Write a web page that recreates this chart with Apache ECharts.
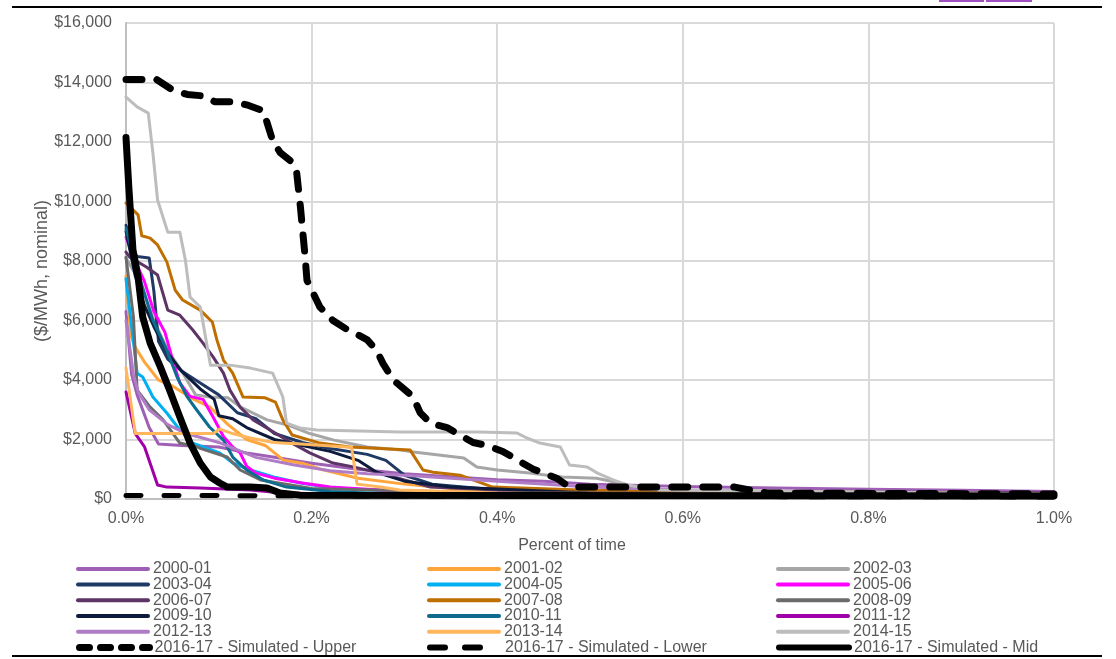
<!DOCTYPE html>
<html>
<head>
<meta charset="utf-8">
<title>Price duration curves</title>
<script src="https://cdn.jsdelivr.net/npm/echarts@6/dist/echarts.min.js"></script>
<style>
  html, body { margin: 0; padding: 0; background: #ffffff; }
  #chart { width: 1116px; height: 659px; }
</style>
</head>
<body>
<div id="chart"></div>
<script>
// Percent of time (x, in %) against price ($/MWh, nominal) for each financial year.
const seasons = [
  '2000-01', '2001-02', '2002-03', '2003-04', '2004-05', '2005-06',
  '2006-07', '2007-08', '2008-09', '2009-10', '2010-11', '2011-12',
  '2012-13', '2013-14', '2014-15',
  '2016-17 - Simulated - Upper', '2016-17 - Simulated - Lower', '2016-17 - Simulated - Mid'
];

const xTicks = [0, 0.2, 0.4, 0.6, 0.8, 1.0];
const yTicks = [0, 2000, 4000, 6000, 8000, 10000, 12000, 14000, 16000];

const fy2000_01 = [[0,6300],[0.006,4200],[0.012,3500],[0.025,2400],[0.035,1850],[0.06,1800],[0.1,1750],[0.13,1550],[0.16,1400],[0.2,1200],[0.25,1000],[0.3,850],[0.35,750],[0.4,650],[0.45,600],[0.5,500],[0.6,420],[0.7,370],[0.8,330],[0.9,290],[1.0,250]];
const fy2001_02 = [[0,7500],[0.005,5500],[0.01,5100],[0.02,4600],[0.035,4000],[0.05,3800],[0.07,3400],[0.09,3100],[0.11,2500],[0.13,2000],[0.15,1800],[0.17,1300],[0.19,1200],[0.21,1000],[0.25,700],[0.3,500],[0.35,350],[0.4,250],[0.5,200],[1.0,150]];
const fy2002_03 = [[0,8100],[0.015,7300],[0.03,6000],[0.045,5000],[0.06,4300],[0.075,3500],[0.09,3430],[0.11,3400],[0.123,3100],[0.152,2660],[0.174,2490],[0.196,2220],[0.224,1980],[0.26,1750],[0.296,1650],[0.31,1580],[0.364,1380],[0.378,1075],[0.4,975],[0.435,870],[0.47,740],[0.507,700],[0.532,540],[0.554,370],[0.6,250],[1.0,180]];
const fy2003_04 = [[0,9200],[0.008,8300],[0.012,8150],[0.025,8100],[0.03,7000],[0.035,5300],[0.045,4700],[0.06,4300],[0.08,3900],[0.1,3500],[0.12,2900],[0.14,2700],[0.16,2200],[0.19,1900],[0.22,1700],[0.26,1500],[0.28,1300],[0.3,800],[0.33,500],[0.4,300],[0.5,200],[1.0,150]];
const fy2004_05 = [[0,7400],[0.012,4230],[0.018,4100],[0.029,3430],[0.044,2890],[0.058,2320],[0.072,1880],[0.101,1550],[0.115,1210],[0.134,975],[0.159,740],[0.188,540],[0.223,370],[0.3,250],[0.5,150],[1.0,100]];
const fy2005_06 = [[0,8800],[0.01,8000],[0.02,7300],[0.03,6300],[0.042,5600],[0.05,4700],[0.058,3900],[0.069,3450],[0.083,3350],[0.094,2750],[0.105,2100],[0.115,1750],[0.123,1550],[0.13,1100],[0.14,870],[0.16,700],[0.19,540],[0.22,400],[0.3,250],[0.5,150],[1.0,100]];
const fy2006_07 = [[0,8300],[0.004,8130],[0.022,7800],[0.034,7530],[0.045,6350],[0.058,6180],[0.072,5680],[0.083,5240],[0.094,4770],[0.105,4230],[0.112,3660],[0.123,3090],[0.137,2660],[0.159,2250],[0.173,1980],[0.198,1550],[0.223,1210],[0.245,1080],[0.274,870],[0.328,400],[0.4,300],[0.6,250],[1.0,200]];
const fy2007_08 = [[0,9950],[0.013,9550],[0.017,8850],[0.026,8770],[0.034,8540],[0.044,7970],[0.053,7020],[0.061,6690],[0.08,6350],[0.093,5950],[0.098,5340],[0.105,4670],[0.115,4230],[0.126,3430],[0.15,3400],[0.161,3260],[0.169,2660],[0.179,2150],[0.198,1980],[0.209,1880],[0.241,1750],[0.306,1650],[0.32,975],[0.331,900],[0.36,800],[0.374,640],[0.395,400],[0.489,300],[1.0,170]];
const fy2008_09 = [[0,8130],[0.008,6120],[0.012,3660],[0.026,3090],[0.04,2660],[0.058,1880],[0.077,1750],[0.08,1700],[0.109,1410],[0.123,975],[0.145,640],[0.2,350],[0.4,200],[1.0,150]];
const fy2009_10 = [[0,9000],[0.01,7500],[0.02,6500],[0.03,5800],[0.045,4900],[0.06,4300],[0.08,3700],[0.095,3350],[0.1,2800],[0.115,2700],[0.13,2400],[0.16,2000],[0.19,1800],[0.22,1600],[0.25,1300],[0.27,900],[0.3,600],[0.35,400],[0.5,200],[1.0,150]];
const fy2010_11 = [[0,9100],[0.005,8500],[0.012,7700],[0.022,6700],[0.029,6000],[0.044,5000],[0.055,4100],[0.066,3430],[0.076,3000],[0.09,2420],[0.105,1980],[0.115,1410],[0.13,975],[0.148,640],[0.173,400],[0.22,250],[0.3,150],[1.0,100]];
const fy2011_12 = [[0,3600],[0.01,2200],[0.02,1750],[0.026,1200],[0.034,470],[0.044,400],[0.08,370],[0.134,300],[0.169,200],[0.3,120],[1.0,80]];
const fy2012_13 = [[0,6000],[0.008,4200],[0.013,3600],[0.025,3000],[0.045,2500],[0.065,2200],[0.1,1900],[0.14,1400],[0.18,1150],[0.22,950],[0.26,850],[0.3,800],[0.35,700],[0.4,600],[0.5,400],[0.6,300],[0.8,200],[1.0,150]];
const fy2013_14 = [[0,4400],[0.01,2200],[0.012,2200],[0.094,2200],[0.101,2350],[0.115,2200],[0.134,2050],[0.159,1900],[0.188,1850],[0.238,1750],[0.243,1750],[0.249,500],[0.274,400],[0.295,300],[0.4,200],[1.0,150]];
const fy2014_15 = [[0,13510],[0.012,13180],[0.024,12970],[0.029,11630],[0.034,10050],[0.045,8970],[0.058,8970],[0.064,8030],[0.069,6790],[0.08,6450],[0.091,4500],[0.112,4500],[0.134,4400],[0.158,4230],[0.169,3430],[0.173,2550],[0.1875,2390],[0.206,2320],[0.295,2250],[0.381,2250],[0.421,2220],[0.432,2050],[0.446,1880],[0.468,1750],[0.478,1140],[0.497,1075],[0.508,870],[0.525,640],[0.54,470],[0.575,300],[1.0,170]];
const simUpper = [[0,14100],[0.026,14100],[0.033,14100],[0.05,13750],[0.066,13600],[0.083,13550],[0.096,13350],[0.117,13350],[0.13,13250],[0.148,13050],[0.152,12650],[0.158,12050],[0.166,11650],[0.18,11300],[0.184,10950],[0.188,9800],[0.191,8800],[0.193,8150],[0.195,7350],[0.202,6900],[0.209,6450],[0.223,6000],[0.238,5700],[0.245,5600],[0.26,5350],[0.27,5000],[0.277,4550],[0.288,4000],[0.309,3450],[0.317,2900],[0.328,2550],[0.346,2400],[0.357,2200],[0.374,1900],[0.389,1800],[0.406,1600],[0.425,1250],[0.439,1000],[0.464,700],[0.478,400],[0.656,400],[0.672,300],[0.691,200],[1.0,170]];
const simLower = [[0,120],[0.17,110],[0.4,90],[1.0,70]];
const simMid = [[0,12150],[0.003,10500],[0.0075,8370],[0.013,7460],[0.018,6120],[0.026,5240],[0.037,4440],[0.047,3660],[0.058,2760],[0.069,1880],[0.08,1210],[0.091,740],[0.101,540],[0.109,400],[0.134,400],[0.152,370],[0.166,200],[0.1875,130],[1.0,100]];

const seriesValues = [
  fy2000_01, fy2001_02, fy2002_03, fy2003_04, fy2004_05, fy2005_06,
  fy2006_07, fy2007_08, fy2008_09, fy2009_10, fy2010_11, fy2011_12,
  fy2012_13, fy2013_14, fy2014_15, simUpper, simLower, simMid
];

const seriesColors = [
  '#9E5FB4', '#FFA53C', '#A6A6A6', '#1F3864', '#00B0F0', '#FF00FF',
  '#5C3566', '#BF6F00', '#6B6B6B', '#0D1A3C', '#0E6C8E', '#A000A8',
  '#B07CC6', '#FFB65C', '#BDBDBD', '#000000', '#000000', '#000000'
];

const textGrey = '#595959';
const fontFamily = 'Liberation Sans, Arial, sans-serif';

function money(v) {
  return '$' + String(v).replace(/\B(?=(\d{3})+(?!\d))/g, ',');
}

const series = seasons.map(function (name, i) {
  const style = { color: seriesColors[i], width: 3, cap: 'round', join: 'round' };
  let z = 2;
  if (name.indexOf('Upper') >= 0) {
    style.width = 7; style.type = [16, 15]; z = 5;
  } else if (name.indexOf('Lower') >= 0) {
    style.width = 5; style.type = [15, 23]; z = 4;
  } else if (name.indexOf('Mid') >= 0) {
    style.width = 7; z = 6;
  }
  return {
    name: name,
    type: 'line',
    data: seriesValues[i],
    showSymbol: false,
    symbol: 'none',
    color: seriesColors[i],
    lineStyle: style,
    z: z,
    silent: true
  };
});

// Legend icon strokes: the simulated runs use heavier, dashed samples.
function legendLine(name) {
  if (name.indexOf('Upper') >= 0) return { width: 7, type: [10, 11], cap: 'round' };
  if (name.indexOf('Lower') >= 0) return { width: 6, type: [15, 20], cap: 'round' };
  if (name.indexOf('Mid') >= 0) return { width: 6, cap: 'round' };
  return { width: 4 };
}

// Legend entries read across in rows of three; each entry gets its own slot.
const legendLefts = [76, 427, 776];
const legendRowCentres = [569, 584.5, 600.3, 616, 631.8, 647.5];

const legends = seasons.map(function (name, i) {
  const col = i % 3;
  const row = Math.floor(i / 3);
  return {
    orient: 'vertical',
    left: legendLefts[col],
    top: legendRowCentres[row] - 8,
    itemWidth: 70,
    itemHeight: 16,
    itemGap: 0,
    padding: 0,
    selectedMode: false,
    itemStyle: { opacity: 0 },
    data: [{ name: name, lineStyle: legendLine(name) }],
    textStyle: { color: textGrey, fontSize: 16, fontFamily: fontFamily }
  };
});

const chart = echarts.init(document.getElementById('chart'), null, { renderer: 'canvas' });

chart.setOption({
  animation: false,
  backgroundColor: '#ffffff',
  grid: { left: 126, right: 62, top: 23, bottom: 160, containLabel: false },
  xAxis: {
    type: 'value',
    min: xTicks[0],
    max: xTicks[xTicks.length - 1],
    interval: 0.2,
    axisLine: { show: true, lineStyle: { color: '#BFBFBF', width: 2 } },
    axisTick: { show: false },
    axisLabel: {
      margin: 12,
      color: textGrey,
      fontSize: 16,
      fontFamily: fontFamily,
      formatter: function (v) { return v.toFixed(1) + '%'; }
    },
    splitLine: { show: true, lineStyle: { color: '#D9D9D9', width: 2 } }
  },
  yAxis: {
    type: 'value',
    min: yTicks[0],
    max: yTicks[yTicks.length - 1],
    interval: 2000,
    axisLine: { show: true, lineStyle: { color: '#BFBFBF', width: 2 } },
    axisTick: { show: false },
    axisLabel: {
      margin: 14,
      color: textGrey,
      fontSize: 16,
      fontFamily: fontFamily,
      formatter: money
    },
    splitLine: { show: true, lineStyle: { color: '#D9D9D9', width: 2 } }
  },
  legend: legends,
  graphic: [
    { type: 'line', shape: { x1: 12, y1: 7, x2: 1102, y2: 7 }, style: { stroke: '#000000', lineWidth: 2 } },
    { type: 'line', shape: { x1: 12, y1: 656, x2: 1102, y2: 656 }, style: { stroke: '#000000', lineWidth: 2 } },
    { type: 'rect', shape: { x: 940, y: -10, width: 43, height: 11 }, style: { fill: 'none', stroke: '#A050C0', lineWidth: 2 } },
    { type: 'rect', shape: { x: 987, y: -10, width: 44, height: 11 }, style: { fill: 'none', stroke: '#A050C0', lineWidth: 2 } },
    {
      type: 'text', x: 572, y: 546,
      style: { text: 'Percent of time', fill: textGrey, fontSize: 16, fontFamily: fontFamily, align: 'center', verticalAlign: 'middle' }
    },
    {
      type: 'text', x: 42, y: 271, rotation: Math.PI / 2,
      style: { text: '($/MWh, nominal)', fill: textGrey, fontSize: 18, fontFamily: fontFamily, align: 'center', verticalAlign: 'middle' }
    }
  ],
  series: series
});
</script>
</body>
</html>
